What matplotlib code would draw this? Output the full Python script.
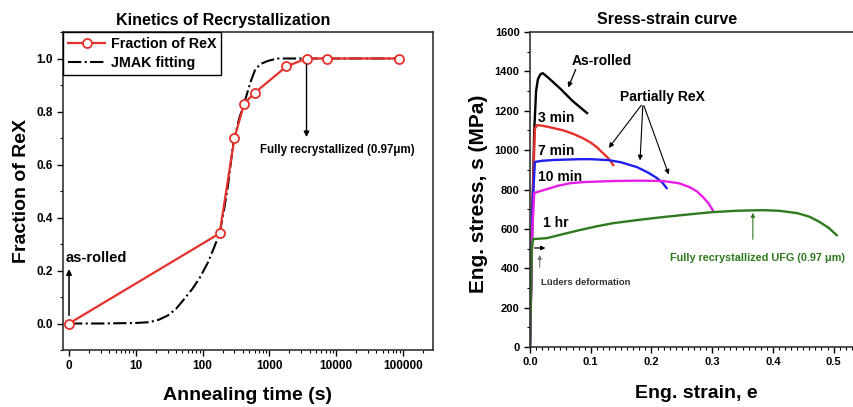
import numpy as np
import matplotlib
matplotlib.use("Agg")
import matplotlib.pyplot as plt
from matplotlib.ticker import FixedLocator, MultipleLocator

plt.rcParams["font.family"] = ["Liberation Sans", "DejaVu Sans"]
plt.rcParams["font.weight"] = "bold"

# ---- data: recrystallization kinetics ----
time_s = [0, 180, 300, 420, 600, 1800, 3600, 7200, 86400]
frac_rex = [0.0, 0.34, 0.70, 0.83, 0.87, 0.97, 1.0, 1.0, 1.0]

jmak_t = [0, 5, 10, 16, 22, 30, 40, 51, 70, 92, 120, 145, 180, 210, 240, 288, 350, 436,
          520, 617, 750, 930, 1300, 3000, 10000, 86400]
jmak_f = [0.0, 0.0, 0.002, 0.005, 0.014, 0.03, 0.055, 0.087, 0.13, 0.175, 0.23, 0.28, 0.34,
          0.43, 0.52, 0.68, 0.77, 0.845, 0.91, 0.96, 0.98, 0.99, 1.0, 1.0, 1.0, 1.0]

time_ticks = [0, 10, 100, 1000, 10000, 100000]
time_labels = ["0", "10", "100", "1000", "10000", "100000"]

# ---- data: stress-strain curves ----
asrolled_e = [0, 0.004, 0.007, 0.010, 0.013, 0.017, 0.021, 0.03, 0.04, 0.05, 0.07, 0.094]
asrolled_s = [0, 700, 1100, 1300, 1360, 1385, 1391, 1368, 1340, 1312, 1250, 1188]
min3_e = [0, 0.004, 0.008, 0.012, 0.02, 0.03, 0.04, 0.054, 0.07, 0.087, 0.1, 0.11,
          0.12, 0.127, 0.133, 0.137]
min3_s = [0, 700, 1110, 1127, 1124, 1118, 1111, 1101, 1084, 1061, 1038, 1015,
          985, 965, 943, 924]
min7_e = [0, 0.004, 0.008, 0.02, 0.04, 0.06, 0.082, 0.1, 0.13, 0.15, 0.176, 0.195,
          0.209, 0.218, 0.225]
min7_s = [0, 700, 940, 946, 950, 952, 954, 954, 949, 938, 914, 885, 858, 835, 807]
min10_e = [0, 0.004, 0.007, 0.015, 0.028, 0.045, 0.066, 0.09, 0.137, 0.18, 0.219,
           0.245, 0.263, 0.275, 0.285, 0.294, 0.301]
min10_s = [0, 600, 782, 790, 802, 818, 832, 838, 843, 845, 843, 832, 812, 790, 761,
           730, 695]
hr1_e = [0, 0.003, 0.005, 0.028, 0.05, 0.082, 0.11, 0.137, 0.18, 0.219, 0.26, 0.30,
         0.34, 0.383, 0.41, 0.44, 0.46, 0.477, 0.492, 0.505]
hr1_s = [0, 500, 548, 553, 570, 594, 613, 629, 646, 660, 673, 685, 692, 695, 692,
         680, 662, 635, 605, 568]

RED = "#e5302b"
BLUE = "#1f1ff0"
MAG = "#e61ee6"
GREEN = "#2f7a1f"

fig = plt.figure(figsize=(8.54, 4.07), dpi=100)

# ---------------- left panel ----------------
ax1 = fig.add_axes([63 / 854, 1 - 350 / 407, 370 / 854, 318 / 407])
ax1.set_xscale("symlog", linthresh=10, linscale=0.9)
ax1.plot(time_s, frac_rex, "o-", color=RED, lw=1.6, ms=6.5, mfc="white",
         mec=RED, mew=1.3, label="Fraction of ReX", zorder=3)
ax1.plot(jmak_t, jmak_f, "-.", color="black", lw=1.5, label="JMAK fitting", zorder=2)
ax1.set_xlim(-0.9, 282000)
ax1.set_ylim(-0.1, 1.1)
ax1.set_xticks(time_ticks)
ax1.set_xticklabels(time_labels)
minor = [10 * np.log10(k) for k in range(2, 10)]
minor += [k * 10 ** d for d in range(1, 6) for k in range(2, 10)]
ax1.xaxis.set_minor_locator(FixedLocator(minor))
ax1.set_yticks([0.0, 0.2, 0.4, 0.6, 0.8, 1.0])
ax1.yaxis.set_minor_locator(MultipleLocator(0.1))
ax1.tick_params(which="major", direction="out", length=4, width=1, labelsize=8.5)
ax1.tick_params(which="minor", direction="out", length=2, width=0.8)
for s in ax1.spines.values():
    s.set_linewidth(1.2)
    s.set_color("#333333")

leg = ax1.legend(loc="upper left", borderaxespad=0, fancybox=False, edgecolor="black",
                 fontsize=10.3, handlelength=2.6, handletextpad=0.4, borderpad=0.35,
                 labelspacing=0.35, framealpha=1)
leg.get_frame().set_linewidth(1.0)

ax1.annotate("", xy=(0, 0.216), xytext=(0, 0.02),
             arrowprops=dict(arrowstyle="-|>", color="black", lw=1.1, mutation_scale=8))
ax1.text(-0.45, 0.246, "as-rolled", fontsize=10.5, fontweight="bold", va="center", ha="left")
ax1.annotate("", xy=(3600, 0.693), xytext=(3600, 0.989),
             arrowprops=dict(arrowstyle="-|>", color="black", lw=1.0, mutation_scale=8))
ax1.text(727, 0.655, "Fully recrystallized (0.97\u03bcm)", fontsize=8.3,
         fontweight="bold", va="center", ha="left")

fig.text(223 / 854, 1 - 20 / 407, "Kinetics of Recrystallization", fontsize=11.5,
         fontweight="bold", ha="center", va="center")
fig.text(22 / 854, 1 - 191 / 407, "Fraction of ReX", fontsize=14, fontweight="bold",
         rotation=90, ha="center", va="center")
fig.text(248 / 854, 1 - 395 / 407, "Annealing time (s)", fontsize=14, fontweight="bold",
         ha="center", va="center")

# ---------------- right panel ----------------
ax2 = fig.add_axes([530 / 854, 1 - 347 / 407, 334 / 854, 315 / 407])
ax2.plot(asrolled_e, asrolled_s, color="black", lw=1.7)
ax2.plot(min3_e, min3_s, color=RED, lw=1.7)
ax2.plot(min7_e, min7_s, color=BLUE, lw=1.7)
ax2.plot(min10_e, min10_s, color=MAG, lw=1.7)
ax2.plot(hr1_e, hr1_s, color=GREEN, lw=1.7)
ax2.set_xlim(0, 0.55)
ax2.set_ylim(0, 1600)
ax2.set_xticks([0.0, 0.1, 0.2, 0.3, 0.4, 0.5])
ax2.xaxis.set_minor_locator(MultipleLocator(0.01))
ax2.set_yticks(range(0, 1601, 200))
ax2.yaxis.set_minor_locator(MultipleLocator(100))
ax2.tick_params(which="major", direction="out", length=4, width=1, labelsize=8)
ax2.tick_params(which="minor", direction="out", length=2, width=0.8)
for s in ax2.spines.values():
    s.set_linewidth(1.2)
    s.set_color("#333333")

ax2.text(0.069, 1452, "As-rolled", fontsize=10, fontweight="bold", va="center")
ax2.annotate("", xy=(0.061, 1305), xytext=(0.077, 1422),
             arrowprops=dict(arrowstyle="-|>", color="black", lw=0.9, mutation_scale=7))
ax2.text(0.013, 1163, "3 min", fontsize=10, fontweight="bold", va="center")
ax2.text(0.013, 995, "7 min", fontsize=10, fontweight="bold", va="center")
ax2.text(0.013, 863, "10 min", fontsize=10, fontweight="bold", va="center")
ax2.text(0.021, 630, "1 hr", fontsize=10, fontweight="bold", va="center")
ax2.text(0.148, 1270, "Partially ReX", fontsize=10, fontweight="bold", va="center")
for tx, ty in [(0.127, 1000), (0.181, 934), (0.230, 863)]:
    ax2.annotate("", xy=(tx, ty), xytext=(0.186, 1239),
                 arrowprops=dict(arrowstyle="-|>", color="black", lw=0.8, mutation_scale=7))
ax2.annotate("", xy=(0.367, 696), xytext=(0.367, 533),
             arrowprops=dict(arrowstyle="-|>", color=GREEN, lw=0.8, mutation_scale=6))
ax2.text(0.230, 452, "Fully recrystallized UFG (0.97 \u03bcm)", fontsize=7.8,
         fontweight="bold", color=GREEN, va="center", clip_on=False)
ax2.annotate("", xy=(0.030, 503), xytext=(0.003, 503),
             arrowprops=dict(arrowstyle="-|>", color="black", lw=0.9, mutation_scale=6))
ax2.annotate("", xy=(0.016, 482), xytext=(0.016, 391),
             arrowprops=dict(arrowstyle="-|>", color="#777777", lw=0.8, mutation_scale=6))
ax2.text(0.018, 330, "L\u00fcders deformation", fontsize=6.8, color="#333333", va="center")

fig.text(667 / 854, 1 - 20 / 407, "Sress-strain curve", fontsize=11.5, fontweight="bold",
         ha="center", va="center")
fig.text(479 / 854, 1 - 194 / 407, "Eng. stress, s (MPa)", fontsize=15, fontweight="bold",
         rotation=90, ha="center", va="center")
fig.text(696 / 854, 1 - 393 / 407, "Eng. strain, e", fontsize=14, fontweight="bold",
         ha="center", va="center")

fig.savefig("out.png", dpi=100)
